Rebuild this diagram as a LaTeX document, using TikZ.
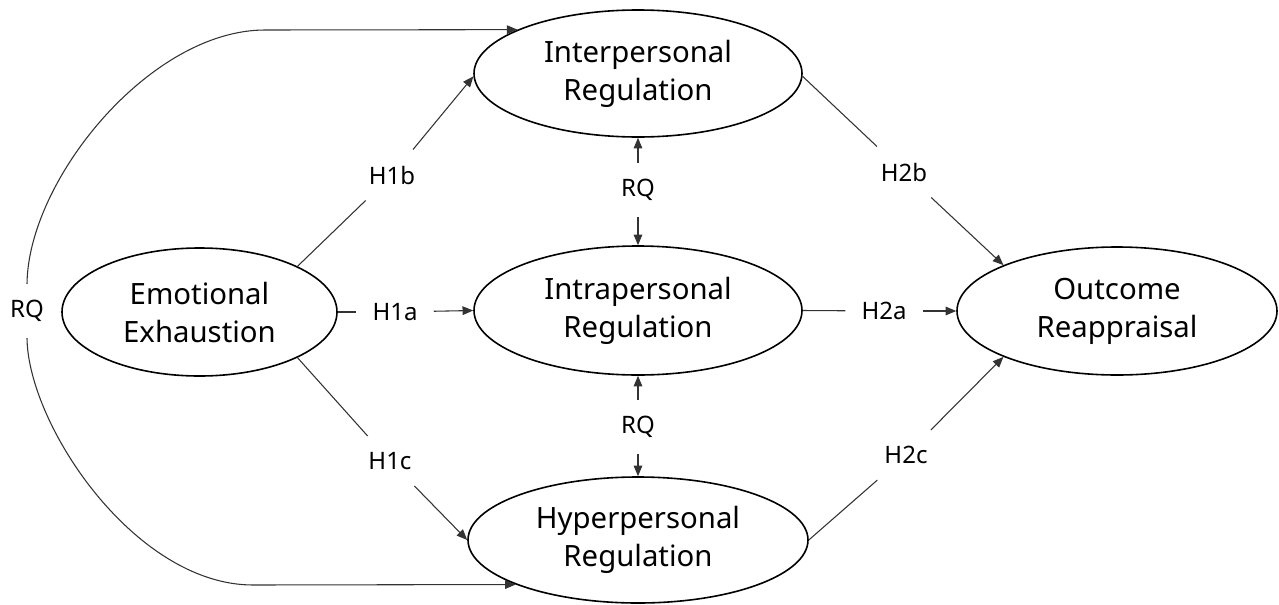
\documentclass[tikz,border=0pt]{standalone}
\usepackage{fontspec}
\setmainfont{Noto Sans}
\usetikzlibrary{arrows.meta,shapes.geometric}
\begin{document}
\begin{tikzpicture}[x=0.75pt,y=-0.75pt,
  var/.style={draw=black, line width=1.2pt, ellipse, inner sep=0pt, align=center,
              font=\fontsize{22}{28.5}\selectfont},
  lab/.style={inner sep=12pt, font=\fontsize{18}{20}\selectfont},
  conn/.style={draw=black!80, line width=0.8pt},
  arr/.style={conn, -{Triangle[length=8pt,width=6.5pt]}}]
\useasboundingbox (0,0) rectangle (1279,604);
% constructs
\node[var, minimum width=206.25pt, minimum height=96pt] (EE) at (199.5,312) {Emotional\\Exhaustion};
\node[var, minimum width=246pt, minimum height=95.25pt] (IR) at (638,73.5) {Interpersonal\\Regulation};
\node[var, minimum width=246pt, minimum height=96.75pt] (AR) at (638,310.5) {Intrapersonal\\Regulation};
\node[var, minimum width=255pt, minimum height=94.5pt] (HR) at (638,540) {Hyperpersonal\\Regulation};
\node[var, minimum width=240pt, minimum height=96pt] (OR) at (1117,311) {Outcome\\Reappraisal};
% labels
\node[lab] (h1b) at (392,175) {H1b};
\node[lab] (h1a) at (395,312) {H1a};
\node[lab] (h1c) at (390,461) {H1c};
\node[lab] (h2b) at (904,172) {H2b};
\node[lab] (h2a) at (884,311) {H2a};
\node[lab] (h2c) at (906,455) {H2c};
\node[lab] (rq1) at (638,190) {RQ};
\node[lab] (rq2) at (638,427) {RQ};
\node[lab] (rqL) at (27,311) {RQ};
% paths
\draw[conn] (EE.25) -- (h1b);
\draw[arr] (h1b) -- (IR.181);
\draw[conn] (EE.east) -- (h1a);
\draw[arr] (h1a) -- (AR.west);
\draw[conn] (EE.-25) -- (h1c);
\draw[arr] (h1c) -- (HR.west);
\draw[conn] (IR.-1) -- (h2b);
\draw[arr] (h2b) -- (OR.158);
\draw[conn] (AR.east) -- (h2a);
\draw[arr] (h2a) -- (OR.west);
\draw[conn] (HR.east) -- (h2c);
\draw[arr] (h2c) -- (OR.202);
\draw[arr] (rq1) -- (IR.south);
\draw[arr] (rq1) -- (AR.north);
\draw[arr] (rq2) -- (AR.south);
\draw[arr] (rq2) -- (HR.north);
\coordinate (t1) at (265,30);
\coordinate (b1) at (253,585);
\draw[arr] (rqL.north) .. controls (28,180) and (150,30) .. (t1) -- (IR.160);
\draw[arr] (rqL.south) .. controls (28,425) and (135,585) .. (b1) -- (HR.200);
\end{tikzpicture}
\end{document}
